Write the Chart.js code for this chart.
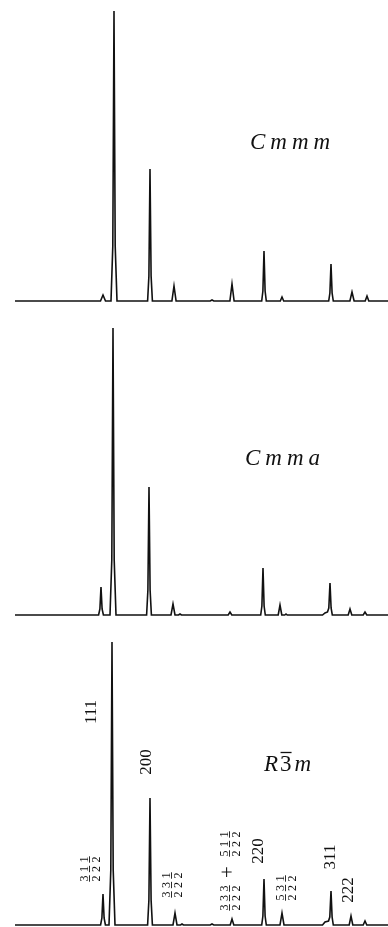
<!DOCTYPE html>
<html><head><meta charset="utf-8">
<script src="https://cdn.jsdelivr.net/npm/chart.js@4.4.1/dist/chart.umd.min.js"></script>
<style>
html,body{margin:0;padding:0;background:#fff;width:388px;height:927px;overflow:hidden}
canvas{position:absolute;left:0}
</style></head><body>
<canvas id="c1" width="388" height="310" style="top:0"></canvas>
<canvas id="c2" width="388" height="310" style="top:310px"></canvas>
<canvas id="c3" width="388" height="307" style="top:620px"></canvas>
<script>
// ---- data (2θ in arbitrary units, intensity in arbitrary units) ----
const twoTheta1 = [15,
 100.5,103,105.5,
 111,112.8,114,115.2,117,
 147.6,148.9,150,151.1,152.4,
 171.9,174,176.1,
 210.2,212,213.8,
 229.9,232,234.1,
 261.7,262.9,264,265.1,266.3,
 280.3,282,283.7,
 328.7,329.9,331,332.1,333.3,
 349.9,352,354.1,
 365.2,367,368.8,
 388];
const int1 = [0,
 0,6,0,
 0,55,290,55,0,
 0,25,132,25,0,
 0,15,0,
 0,1,0,
 0,17,0,
 0,10,50,10,0,
 0,4,0,
 0,8,37,8,0,
 0,9,0,
 0,5,0,
 0];

const twoTheta2 = [15,
 98.6,99.9,101,102.1,103.4,
 110,111.8,113,114.2,116,
 146.6,147.9,149,150.1,151.4,
 171,173,175,
 178.5,180,181.5,
 228.2,230,231.8,
 260.7,261.9,263,264.1,265.3,
 278.2,280,281.8,
 284.8,286,287.2,
 322.5,325,327.5,328.8,330,331.1,332.3,
 348.2,350,351.8,
 363.2,365,366.8,
 388];
const int2 = [0,
 0,6,28,6,0,
 0,55,287,55,0,
 0,25,128,25,0,
 0,11,0,
 0,1,0,
 0,3,0,
 0,9,47,9,0,
 0,10,0,
 0,1,0,
 0,2,3,7,32,7,0,
 0,6,0,
 0,3,0,
 0];

const twoTheta3 = [15,
 100.6,101.9,103,104.1,105.4,
 109,110.8,112,113.2,115,
 147.6,148.9,150,151.1,152.4,
 173,175,177,
 180.5,182,183.5,
 210.2,212,213.8,
 230.2,232,233.8,
 261.7,262.9,264,265.1,266.3,
 280,282,284,
 322.5,325,328.5,329.8,331,332.1,333.3,
 349.2,351,352.8,
 363.2,365,366.8,
 388];
const int3 = [0,
 0,7,31,7,0,
 0,55,283,55,0,
 0,25,127,25,0,
 0,12,0,
 0,1,0,
 0,1,0,
 0,6,0,
 0,9,46,9,0,
 0,12,0,
 0,3,4,8,34,8,0,
 0,9,0,
 0,4,0,
 0];

const spaceGroups = ['Cmmm', 'Cmma', 'R3̄m'];
const reflLabels = ['111', '200', '220', '311', '222'];
const fracLabels = [['311','222'], ['331','222'], ['333','222'], ['511','222'], ['531','222']];

// ---- annotation plugin: draws text anchored at data coordinates ----
const annot = {
  id: 'annot',
  afterDatasetsDraw(chart, args, opts) {
    const {ctx} = chart;
    const xs = chart.scales.x, ys = chart.scales.y;
    (opts.items || []).forEach(it => {
      const px = xs.getPixelForValue(it.x), py = ys.getPixelForValue(it.y);
      ctx.save();
      ctx.translate(px, py);
      if (it.rotate) ctx.rotate(-Math.PI / 2);
      ctx.fillStyle = '#111';
      ctx.strokeStyle = '#111';
      if (it.kind === 'group') {
        ctx.textBaseline = 'middle';
        ctx.textAlign = 'left';
        let cx = 0;
        it.parts.forEach(p => {
          ctx.font = p.font;
          ctx.letterSpacing = p.spacing || '0px';
          ctx.fillText(p.t, cx, 0);
          const w = ctx.measureText(p.t).width;
          if (p.bar) {
            ctx.lineWidth = 1.3;
            ctx.beginPath();
            ctx.moveTo(cx + 0.5, -12.5); ctx.lineTo(cx + w - 3, -12.5); ctx.stroke();
          }
          cx += w;
        });
      } else if (it.kind === 'text') {
        ctx.font = it.font;
        ctx.textAlign = 'center';
        ctx.textBaseline = 'middle';
        ctx.fillText(it.t, 0, 0);
      } else if (it.kind === 'frac') {
        ctx.font = it.font;
        ctx.textAlign = 'center';
        const n = it.num.length, cell = it.cell;
        const total = n * cell;
        for (let i = 0; i < n; i++) {
          const cx = -total / 2 + (i + 0.5) * cell;
          ctx.textBaseline = 'alphabetic';
          ctx.fillText(it.num[i], cx, -1.5);
          ctx.lineWidth = 0.9;
          ctx.beginPath(); ctx.moveTo(cx - 3.2, 0.5); ctx.lineTo(cx + 3.2, 0.5); ctx.stroke();
          ctx.textBaseline = 'top';
          ctx.fillText(it.den[i], cx, 2);
        }
      }
      ctx.restore();
    });
  }
};

function makeChart(id, xsArr, ysArr, yMin, yMax, items) {
  return new Chart(document.getElementById(id), {
    type: 'line',
    data: {
      datasets: [{
        data: xsArr.map((v, i) => ({x: v, y: ysArr[i]})),
        borderColor: '#111',
        borderWidth: 1.6,
        pointRadius: 0,
        tension: 0,
        fill: false
      }]
    },
    options: {
      responsive: false,
      animation: false,
      devicePixelRatio: 1,
      layout: {padding: 0},
      plugins: {legend: {display: false}, tooltip: {enabled: false}, annot: {items}},
      scales: {
        x: {type: 'linear', min: 0, max: 388, display: false},
        y: {min: yMin, max: yMax, display: false}
      }
    },
    plugins: [annot]
  });
}

const italic = 'italic 23px "Liberation Serif"';
const upright = '23px "Liberation Serif"';

makeChart('c1', twoTheta1, int1, -9, 301, [
  {kind: 'group', x: 250, y: 158, parts: [{t: spaceGroups[0], font: italic, spacing: '5px'}]}
]);
makeChart('c2', twoTheta2, int2, -5, 305, [
  {kind: 'group', x: 245, y: 156, parts: [{t: spaceGroups[1], font: italic, spacing: '5px'}]}
]);

const lblFont = '17px "Liberation Serif"';
const fracFont = '12px "Liberation Serif"';
makeChart('c3', twoTheta3, int3, -2, 305, [
  {kind: 'group', x: 264, y: 160, parts: [
    {t: 'R', font: italic, spacing: '2px'},
    {t: '3', font: upright, spacing: '3px', bar: true},
    {t: 'm', font: italic}
  ]},
  {kind: 'text', t: reflLabels[0], x: 92, y: 213, rotate: true, font: lblFont},
  {kind: 'text', t: reflLabels[1], x: 147, y: 163, rotate: true, font: lblFont},
  {kind: 'text', t: reflLabels[2], x: 259, y: 74, rotate: true, font: lblFont},
  {kind: 'text', t: reflLabels[3], x: 331, y: 68, rotate: true, font: lblFont},
  {kind: 'text', t: reflLabels[4], x: 349, y: 35, rotate: true, font: lblFont},
  {kind: 'frac', num: fracLabels[0][0], den: fracLabels[0][1], x: 89, y: 56, rotate: true, font: fracFont, cell: 9.5},
  {kind: 'frac', num: fracLabels[1][0], den: fracLabels[1][1], x: 171, y: 40, rotate: true, font: fracFont, cell: 9.5},
  {kind: 'frac', num: fracLabels[2][0], den: fracLabels[2][1], x: 229, y: 27, rotate: true, font: fracFont, cell: 9.5},
  {kind: 'text', t: '+', x: 228, y: 53, rotate: true, font: '21px "Liberation Serif"'},
  {kind: 'frac', num: fracLabels[3][0], den: fracLabels[3][1], x: 229, y: 81, rotate: true, font: fracFont, cell: 9.5},
  {kind: 'frac', num: fracLabels[4][0], den: fracLabels[4][1], x: 285, y: 37, rotate: true, font: fracFont, cell: 9.5}
]);
</script>
</body></html>
